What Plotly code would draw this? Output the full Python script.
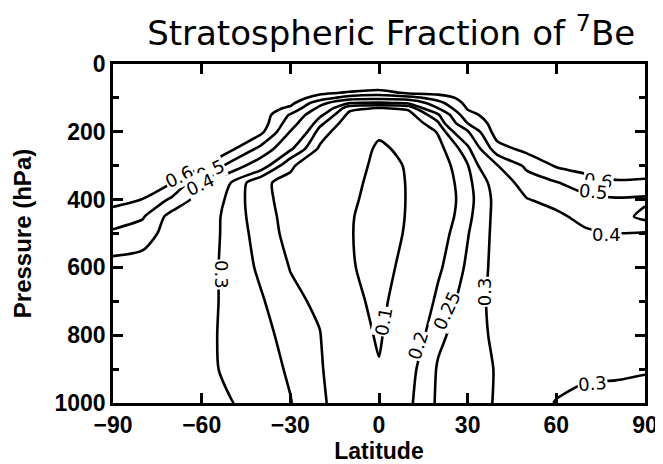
import plotly.graph_objects as go

# Latitude (deg) of each column and pressure (hPa) of each row of the field
latitudes = [-90, -80, -70, -60, -50, -40, -30, -20, -10, 0, 10, 20, 30, 40, 50, 60, 70, 80, 90]
pressures = [0, 70, 85, 100, 115, 130, 150, 175, 200, 250, 300, 350, 400, 450, 500, 600, 700, 800, 900, 1000]

# Stratospheric fraction of 7Be, one list per latitude (values top -> bottom, following pressures)
frac_s90 = [0.66, 0.66, 0.66, 0.66, 0.66, 0.66, 0.66, 0.66, 0.66, 0.66, 0.655, 0.645, 0.63, 0.56, 0.48, 0.36, 0.355, 0.35, 0.345, 0.34]
frac_s80 = [0.66, 0.66, 0.66, 0.66, 0.66, 0.66, 0.66, 0.66, 0.66, 0.66, 0.655, 0.64, 0.598, 0.51, 0.45, 0.35, 0.345, 0.34, 0.34, 0.335]
frac_s70 = [0.66, 0.66, 0.66, 0.66, 0.66, 0.66, 0.66, 0.66, 0.66, 0.655, 0.645, 0.602, 0.48, 0.36, 0.35, 0.34, 0.335, 0.335, 0.33, 0.33]
frac_s60 = [0.66, 0.66, 0.66, 0.66, 0.66, 0.66, 0.66, 0.66, 0.66, 0.645, 0.61, 0.41, 0.35, 0.33, 0.325, 0.32, 0.32, 0.32, 0.32, 0.315]
frac_s50 = [0.66, 0.66, 0.66, 0.66, 0.66, 0.66, 0.66, 0.655, 0.645, 0.62, 0.46, 0.298, 0.285, 0.283, 0.285, 0.285, 0.285, 0.282, 0.285, 0.302]
frac_s40 = [0.66, 0.66, 0.66, 0.66, 0.66, 0.66, 0.66, 0.655, 0.625, 0.47, 0.336, 0.205, 0.21, 0.218, 0.226, 0.24, 0.256, 0.266, 0.27, 0.277]
frac_s30 = [0.66, 0.66, 0.66, 0.65, 0.63, 0.58, 0.49, 0.445, 0.396, 0.31, 0.205, 0.192, 0.187, 0.185, 0.185, 0.198, 0.213, 0.232, 0.244, 0.252]
frac_s20 = [0.66, 0.64, 0.62, 0.557, 0.435, 0.374, 0.315, 0.264, 0.229, 0.19, 0.175, 0.165, 0.16, 0.155, 0.155, 0.16, 0.19, 0.202, 0.207, 0.212]
frac_s10 = [0.66, 0.64, 0.59, 0.447, 0.302, 0.215, 0.185, 0.165, 0.15, 0.13, 0.12, 0.113, 0.108, 0.104, 0.103, 0.105, 0.115, 0.13, 0.145, 0.16]
frac_eq = [0.66, 0.64, 0.55, 0.433, 0.29, 0.198, 0.165, 0.135, 0.108, 0.092, 0.088, 0.085, 0.083, 0.08, 0.08, 0.082, 0.087, 0.093, 0.104, 0.15]
frac_n10 = [0.66, 0.64, 0.62, 0.455, 0.31, 0.21, 0.18, 0.155, 0.135, 0.112, 0.103, 0.102, 0.102, 0.103, 0.105, 0.115, 0.13, 0.15, 0.18, 0.19]
frac_n20 = [0.66, 0.645, 0.63, 0.547, 0.465, 0.402, 0.288, 0.242, 0.205, 0.18, 0.165, 0.155, 0.15, 0.155, 0.17, 0.19, 0.213, 0.24, 0.255, 0.258]
frac_n30 = [0.66, 0.65, 0.645, 0.64, 0.63, 0.61, 0.57, 0.5, 0.389, 0.28, 0.247, 0.236, 0.232, 0.238, 0.247, 0.259, 0.275, 0.275, 0.28, 0.28]
frac_n40 = [0.66, 0.66, 0.66, 0.66, 0.66, 0.655, 0.65, 0.65, 0.65, 0.56, 0.395, 0.33, 0.318, 0.318, 0.318, 0.318, 0.315, 0.311, 0.303, 0.304]
frac_n50 = [0.66, 0.66, 0.66, 0.66, 0.66, 0.66, 0.66, 0.66, 0.66, 0.63, 0.52, 0.45, 0.395, 0.36, 0.345, 0.335, 0.33, 0.325, 0.32, 0.318]
frac_n60 = [0.66, 0.66, 0.66, 0.66, 0.66, 0.66, 0.66, 0.66, 0.66, 0.645, 0.61, 0.494, 0.433, 0.38, 0.36, 0.34, 0.33, 0.325, 0.315, 0.298]
frac_n70 = [0.66, 0.66, 0.66, 0.66, 0.66, 0.66, 0.66, 0.66, 0.66, 0.65, 0.645, 0.55, 0.474, 0.43, 0.385, 0.35, 0.335, 0.325, 0.31, 0.285]
frac_n80 = [0.66, 0.66, 0.66, 0.66, 0.66, 0.66, 0.66, 0.66, 0.66, 0.66, 0.65, 0.59, 0.488, 0.45, 0.399, 0.355, 0.335, 0.325, 0.31, 0.28]
frac_n90 = [0.66, 0.66, 0.66, 0.66, 0.66, 0.66, 0.66, 0.66, 0.66, 0.66, 0.65, 0.585, 0.48, 0.53, 0.39, 0.35, 0.335, 0.32, 0.305, 0.275]

# Contour levels drawn in the figure
levels = [0.1, 0.2, 0.25, 0.3, 0.4, 0.5, 0.6]

# In-line contour labels: text, latitude, pressure, text angle
label_texts = ["0.6", "0.5", "0.4", "0.3", "0.1", "0.2", "0.25", "0.3", "0.6", "0.5", "0.4", "0.3"]
label_lats = [-67.5, -57.0, -60.5, -53.5, 1.7, 13.2, 23.0, 35.8, 74.4, 72.5, 77.0, 72.3]
label_ps = [333, 314, 356, 622, 761, 831, 728, 671, 343, 377, 502, 941]
label_angles = [-25, -25, -25, 90, -80, -72, -65, -90, 5, 5, 0, -5]

# Axis ticks
lat_ticks = [-90, -60, -30, 0, 30, 60, 90]
p_ticks = [0, 200, 400, 600, 800, 1000]

columns = [frac_s90, frac_s80, frac_s70, frac_s60, frac_s50, frac_s40, frac_s30, frac_s20, frac_s10,
           frac_eq, frac_n10, frac_n20, frac_n30, frac_n40, frac_n50, frac_n60, frac_n70, frac_n80, frac_n90]
z = [list(row) for row in zip(*columns)]

FONT = "Liberation Sans"
LABEL_FONT = "DejaVu Sans"

fig = go.Figure()
for lev in levels:
    fig.add_trace(go.Contour(
        x=latitudes, y=pressures, z=z,
        autocontour=False,
        contours=dict(start=lev, end=lev, size=1, coloring="lines", showlabels=False),
        colorscale=[[0, "black"], [1, "black"]],
        line=dict(width=2.6, smoothing=0.7),
        showscale=False, hoverinfo="skip",
    ))

for t, la, p, ang in zip(label_texts, label_lats, label_ps, label_angles):
    fig.add_annotation(x=la, y=p, xref="x", yref="y", text=t, showarrow=False,
                       textangle=ang, bgcolor="white", borderpad=0,
                       font=dict(family=LABEL_FONT, size=18, color="black"))

axis_common = dict(showline=True, linewidth=2.5, linecolor="black", mirror="allticks",
                   ticks="inside", ticklen=10, tickwidth=2.5, tickcolor="black",
                   showgrid=False, zeroline=False, automargin=False,
                   tickfont=dict(family=FONT, size=23, color="black", weight="bold"))

fig.update_layout(
    width=655, height=456,
    paper_bgcolor="white", plot_bgcolor="white",
    margin=dict(l=105, r=18, t=56, b=61),
    showlegend=False,
    title=dict(text="Stratospheric Fraction of <sup>7</sup>Be", x=0.585, xanchor="center",
               xref="container", yref="container", y=0.944, yanchor="middle",
               font=dict(family=LABEL_FONT, size=34, color="black"), automargin=False),
    xaxis=dict(range=[-90, 90], tickmode="array", tickvals=lat_ticks, ticklabelstandoff=0,
               title=dict(text="Latitude", standoff=10,
                          font=dict(family=FONT, size=23, color="black", weight="bold")),
               **axis_common),
    yaxis=dict(range=[1000, 0], tickmode="array", tickvals=p_ticks,
               minor=dict(ticks="inside", ticklen=6, tickwidth=2.5, tickcolor="black", dtick=100, tick0=0),
               title=dict(text="Pressure (hPa)", standoff=17,
                          font=dict(family=FONT, size=24, color="black", weight="bold")),
               **axis_common),
)

fig.write_html("out.html")
